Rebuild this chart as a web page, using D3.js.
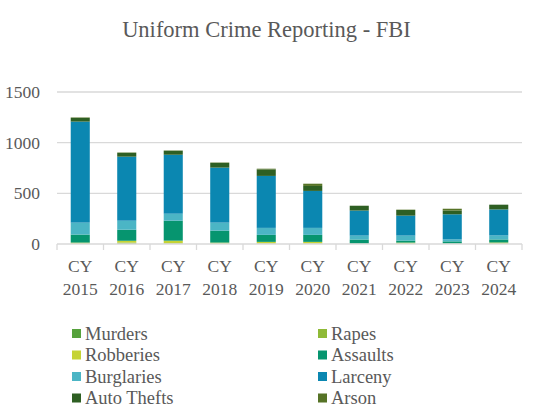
<!DOCTYPE html>
<html>
<head>
<meta charset="utf-8">
<script src="https://cdn.jsdelivr.net/npm/d3@7"></script>
<style>
  body { margin: 0; background: #fff; }
</style>
</head>
<body>
<div id="chart"></div>
<script>
// Uniform Crime Reporting - FBI, stacked bars by year

var years = ["2015", "2016", "2017", "2018", "2019", "2020", "2021", "2022", "2023", "2024"];
var crimes = ["Murders", "Rapes", "Robberies", "Assaults", "Burglaries", "Larceny", "Auto Thefts", "Arson"];
var colors = ["#56a23c", "#8fba37", "#c5d335", "#06956f", "#4bb5c5", "#0b87b1", "#2e5f23", "#567326"];

var murders    = [1, 2, 1, 1, 1, 1, 0, 0, 0, 0];
var rapes      = [3, 12, 4, 3, 4, 4, 2, 3, 2, 3];
var robberies  = [10, 18, 28, 10, 16, 16, 2, 11, 2, 12];
var assaults   = [79, 109, 197, 118, 69, 69, 40, 20, 22, 30];
var burglaries = [118, 89, 69, 79, 69, 69, 39, 49, 20, 39];
var larceny    = [997, 632, 582, 543, 513, 365, 247, 197, 247, 257];
var autoThefts = [37, 37, 39, 46, 64, 49, 47, 56, 37, 47];
var arson      = [4, 4, 3, 4, 7, 22, 1, 3, 18, 0];
var yTicks = [0, 500, 1000, 1500];

var series = [murders, rapes, robberies, assaults, burglaries, larceny, autoThefts, arson];

(function() {
  var width = 533, height = 408;
  var margin = { top: 92, left: 57, right: 11, bottom: 164 };
  var w = width - margin.left - margin.right,
      h = height - margin.top - margin.bottom;
  var font = "'Liberation Serif', 'Times New Roman', 'DejaVu Serif', serif";

  var svg = d3.select("#chart")
    .append("svg")
    .attr("width", width)
    .attr("height", height)
    .style("font-family", font);

  svg.append("text")
    .attr("x", width / 2)
    .attr("y", 37)
    .attr("text-anchor", "middle")
    .attr("font-size", "22.5px")
    .attr("fill", "#595959")
    .text("Uniform Crime Reporting - FBI");

  var g = svg.append("g")
    .attr("transform", "translate(" + margin.left + "," + margin.top + ")");

  var rows = years.map(function(y, i) {
    var r = { year: y };
    crimes.forEach(function(c, j) { r[c] = series[j][i]; });
    return r;
  });

  var x = d3.scaleBand().domain(years).range([0, w]).paddingInner(0.59).paddingOuter(0.295);
  var xBand = d3.scaleBand().domain(years).range([0, w]);
  var y = d3.scaleLinear().domain([0, 1500]).range([h, 0]);

  // gridlines
  g.selectAll(".grid")
    .data(yTicks.filter(function(d) { return d > 0; }))
    .enter().append("line")
    .attr("x1", 0).attr("x2", w)
    .attr("y1", function(d) { return y(d); })
    .attr("y2", function(d) { return y(d); })
    .attr("stroke", "#d9d9d9")
    .attr("stroke-width", 1.3);

  var stack = d3.stack().keys(crimes);
  var layers = stack(rows);

  g.selectAll(".layer")
    .data(layers)
    .enter().append("g")
    .attr("fill", function(d, i) { return colors[i]; })
    .selectAll("rect")
    .data(function(d) { return d; })
    .enter().append("rect")
    .attr("x", function(d) { return x(d.data.year); })
    .attr("width", x.bandwidth())
    .attr("y", function(d) { return y(d[1]); })
    .attr("height", function(d) { return y(d[0]) - y(d[1]); });

  // x axis with ticks at category boundaries
  var xAxis = g.append("g").attr("transform", "translate(0," + h + ")");
  xAxis.append("line")
    .attr("x1", 0).attr("x2", w)
    .attr("stroke", "#d9d9d9").attr("stroke-width", 1.3);
  xAxis.selectAll(".tick")
    .data(d3.range(years.length + 1))
    .enter().append("line")
    .attr("x1", function(d) { return d * xBand.step(); })
    .attr("x2", function(d) { return d * xBand.step(); })
    .attr("y1", 0).attr("y2", 6)
    .attr("stroke", "#d9d9d9").attr("stroke-width", 1.3);

  var lbl = xAxis.selectAll(".lbl")
    .data(years)
    .enter().append("text")
    .attr("text-anchor", "middle")
    .attr("font-size", "17.5px")
    .attr("fill", "#595959")
    .attr("transform", function(d) { return "translate(" + (xBand(d) + xBand.bandwidth() / 2) + ",0)"; });
  lbl.append("tspan").attr("x", 0).attr("y", 28).text("CY");
  lbl.append("tspan").attr("x", 0).attr("y", 51).text(function(d) { return d; });

  // y axis labels
  g.selectAll(".ylbl")
    .data(yTicks)
    .enter().append("text")
    .attr("x", -17)
    .attr("y", function(d) { return y(d); })
    .attr("dy", "0.35em")
    .attr("text-anchor", "end")
    .attr("font-size", "17.5px")
    .attr("fill", "#595959")
    .text(function(d) { return d; });

  // legend
  var legend = svg.selectAll(".legend")
    .data(crimes)
    .enter().append("g")
    .attr("transform", function(d, i) {
      return "translate(" + (i % 2 === 0 ? 72 : 318) + "," + (329 + Math.floor(i / 2) * 21.5) + ")";
    });
  legend.append("rect")
    .attr("width", 9).attr("height", 9)
    .attr("fill", function(d, i) { return colors[i]; });
  legend.append("text")
    .attr("x", 13)
    .attr("y", 4.5)
    .attr("dy", "0.35em")
    .attr("font-size", "18.5px")
    .attr("fill", "#595959")
    .text(function(d) { return d; });
})();
</script>
</body>
</html>
